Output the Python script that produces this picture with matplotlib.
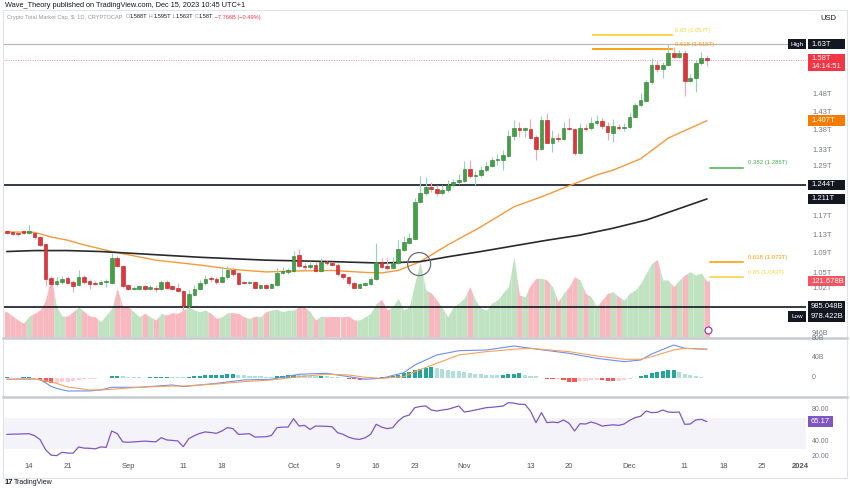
import numpy as np
import matplotlib
matplotlib.use("Agg")
import matplotlib.pyplot as plt
from matplotlib.transforms import IdentityTransform
from matplotlib.patches import Rectangle, Circle
from matplotlib.lines import Line2D

plt.rcParams['font.family'] = ['Liberation Sans', 'DejaVu Sans']

# ---------------- data (daily candles, Aug 10 2023 -> Dec 15 2023, values in T USD) -------------
opens = [
    1.138, 1.135, 1.134, 1.138, 1.135, 1.135, 1.126, 1.110, 1.041, 1.029,
    1.033, 1.041, 1.033, 1.027, 1.043, 1.035, 1.031, 1.028, 1.032, 1.031,
    1.082, 1.066, 1.026, 1.019, 1.020, 1.024, 1.020, 1.022, 1.020, 1.032,
    1.024, 1.022, 1.015, 0.987, 1.007, 1.020, 1.030, 1.040, 1.039, 1.032,
    1.042, 1.057, 1.051, 1.032, 1.030, 1.033, 1.022, 1.026, 1.022, 1.027,
    1.051, 1.052, 1.055, 1.088, 1.066, 1.062, 1.068, 1.055, 1.073, 1.071,
    1.068, 1.048, 1.042, 1.030, 1.022, 1.027, 1.029, 1.038, 1.073, 1.066,
    1.060, 1.071, 1.098, 1.114, 1.122, 1.205, 1.224, 1.240, 1.234, 1.224,
    1.231, 1.243, 1.250, 1.254, 1.282, 1.266, 1.267, 1.280, 1.291, 1.305,
    1.305, 1.316, 1.366, 1.387, 1.383, 1.384, 1.363, 1.334, 1.409, 1.349,
    1.362, 1.359, 1.388, 1.385, 1.322, 1.388, 1.387, 1.400, 1.405, 1.393,
    1.375, 1.391, 1.388, 1.389, 1.418, 1.450, 1.462, 1.515, 1.566, 1.553,
    1.566, 1.603, 1.591, 1.603, 1.519, 1.526, 1.571, 1.588]
highs = [
    1.141, 1.138, 1.137, 1.140, 1.152, 1.137, 1.128, 1.111, 1.045, 1.043,
    1.045, 1.045, 1.037, 1.057, 1.047, 1.039, 1.034, 1.036, 1.039, 1.091,
    1.086, 1.067, 1.029, 1.025, 1.027, 1.026, 1.026, 1.027, 1.037, 1.037,
    1.027, 1.031, 1.017, 1.017, 1.027, 1.037, 1.047, 1.045, 1.043, 1.063,
    1.065, 1.063, 1.053, 1.035, 1.034, 1.035, 1.029, 1.028, 1.031, 1.061,
    1.064, 1.061, 1.096, 1.101, 1.071, 1.075, 1.073, 1.081, 1.075, 1.073,
    1.071, 1.051, 1.045, 1.033, 1.031, 1.033, 1.043, 1.112, 1.081, 1.081,
    1.084, 1.119, 1.128, 1.134, 1.213, 1.266, 1.264, 1.251, 1.244, 1.244,
    1.256, 1.258, 1.270, 1.302, 1.305, 1.278, 1.290, 1.300, 1.313, 1.320,
    1.330, 1.382, 1.409, 1.404, 1.390, 1.413, 1.369, 1.420, 1.427, 1.382,
    1.374, 1.404, 1.414, 1.388, 1.401, 1.398, 1.417, 1.423, 1.414, 1.404,
    1.413, 1.398, 1.401, 1.428, 1.456, 1.484, 1.521, 1.586, 1.578, 1.575,
    1.630, 1.621, 1.611, 1.611, 1.539, 1.581, 1.606, 1.595]
lows = [
    1.132, 1.130, 1.129, 1.132, 1.132, 1.122, 1.107, 1.025, 1.021, 1.025,
    1.029, 1.029, 1.014, 1.025, 1.029, 1.019, 1.026, 1.026, 1.023, 1.029,
    1.064, 1.022, 1.017, 1.017, 1.018, 1.017, 1.017, 1.013, 1.017, 1.019,
    1.017, 1.013, 0.978, 0.983, 1.005, 1.017, 1.027, 1.033, 1.029, 1.031,
    1.039, 1.045, 1.027, 1.029, 1.029, 1.021, 1.019, 1.020, 1.021, 1.025,
    1.049, 1.049, 1.053, 1.063, 1.057, 1.059, 1.053, 1.053, 1.068, 1.065,
    1.045, 1.039, 1.027, 1.019, 1.021, 1.025, 1.027, 1.037, 1.061, 1.057,
    1.059, 1.069, 1.096, 1.111, 1.121, 1.202, 1.220, 1.227, 1.218, 1.220,
    1.227, 1.239, 1.246, 1.252, 1.261, 1.244, 1.263, 1.275, 1.288, 1.293,
    1.280, 1.313, 1.356, 1.364, 1.364, 1.359, 1.305, 1.330, 1.348, 1.326,
    1.351, 1.356, 1.382, 1.318, 1.320, 1.380, 1.382, 1.396, 1.385, 1.356,
    1.351, 1.382, 1.380, 1.388, 1.414, 1.447, 1.459, 1.510, 1.545, 1.527,
    1.563, 1.587, 1.587, 1.474, 1.516, 1.488, 1.566, 1.563]
closes = [
    1.135, 1.133, 1.132, 1.135, 1.138, 1.125, 1.108, 1.038, 1.028, 1.035,
    1.039, 1.031, 1.025, 1.043, 1.032, 1.029, 1.028, 1.033, 1.035, 1.082,
    1.066, 1.025, 1.020, 1.022, 1.024, 1.020, 1.022, 1.019, 1.033, 1.022,
    1.020, 1.015, 0.987, 1.009, 1.020, 1.031, 1.039, 1.038, 1.032, 1.043,
    1.057, 1.049, 1.029, 1.030, 1.032, 1.022, 1.026, 1.022, 1.028, 1.051,
    1.054, 1.056, 1.086, 1.065, 1.062, 1.068, 1.055, 1.073, 1.071, 1.068,
    1.048, 1.042, 1.030, 1.022, 1.028, 1.030, 1.039, 1.073, 1.064, 1.060,
    1.071, 1.100, 1.116, 1.124, 1.205, 1.226, 1.239, 1.235, 1.224, 1.232,
    1.245, 1.250, 1.255, 1.282, 1.266, 1.268, 1.280, 1.291, 1.305, 1.308,
    1.318, 1.366, 1.387, 1.382, 1.385, 1.362, 1.334, 1.409, 1.349, 1.361,
    1.359, 1.388, 1.385, 1.322, 1.388, 1.385, 1.400, 1.407, 1.393, 1.378,
    1.393, 1.388, 1.390, 1.418, 1.450, 1.464, 1.516, 1.566, 1.553, 1.566,
    1.603, 1.591, 1.603, 1.519, 1.528, 1.573, 1.588, 1.580]

# volume (billions USD)
volume = [
    55, 45.6, 37, 29.8, 45.6, 51.5, 58.7, 80, 132.6, 65.8,
    45.6, 45.6, 55, 65.8, 55, 45.6, 44, 33, 47.8, 62.4,
    105.8, 65.8, 65.8, 55, 44, 51.5, 44, 37, 51.5, 47.8,
    52.8, 51.5, 58.7, 65.8, 58.7, 55, 58.7, 51.5, 40.6, 44,
    52.8, 52.8, 51.5, 44, 40.6, 45.6, 44, 55, 58.7, 60.2,
    55, 58.7, 58.7, 65.8, 65.8, 55, 37, 45.6, 44, 44,
    44, 44, 45.6, 37, 37, 44, 51.5, 73.2, 81.9, 58.7,
    65.8, 84.1, 58.7, 65.8, 116.7, 163, 102, 95.6, 80.4, 63,
    44, 65.8, 73.9, 84.7, 109.3, 80.4, 63, 58.7, 73.9, 80.4,
    95.6, 109.3, 174.5, 91.3, 87.6, 113, 127.6, 127.6, 123.9, 109.3,
    76.7, 95, 109.3, 131, 123.9, 95, 87.6, 65.8, 80.4, 95,
    98.4, 87.6, 80.4, 95, 102, 116.7, 138.4, 160, 168.8, 123.9,
    123.9, 109.3, 123.9, 134.7, 141.9, 134.7, 139, 121.678]

# moving averages (bar index, value in T)
ema50_idx = [0, 5, 8, 11, 14, 19, 23, 27, 35, 41, 47, 53, 59, 65, 68, 71, 75, 80, 86, 92, 97,
             102, 107, 110, 115, 120, 122, 127]
ema50_val = [1.137, 1.136, 1.126, 1.119, 1.109, 1.095, 1.086, 1.077, 1.067, 1.058, 1.053, 1.055,
             1.056, 1.052, 1.051, 1.056, 1.074, 1.109, 1.148, 1.193, 1.216, 1.242, 1.268, 1.280,
             1.308, 1.361, 1.374, 1.407]
ema200_idx = [0, 5, 11, 17, 23, 35, 47, 59, 68, 75, 80, 86, 92, 98, 104, 110, 116, 127]
ema200_val = [1.095, 1.097, 1.097, 1.095, 1.091, 1.083, 1.077, 1.074, 1.071, 1.074, 1.084, 1.095,
              1.107, 1.119, 1.130, 1.145, 1.163, 1.211]

# MACD (billions)
macd_idx = [0, 5, 6, 7, 8, 9, 11, 15, 17, 19, 24, 30, 32, 38, 43, 48, 53, 58, 62, 65, 68, 72, 74,
            78, 82, 87, 92, 95, 102, 107, 112, 115, 117, 121, 123, 127]
macd_val = [-3.1, -2.5, -4, -10, -17, -21, -26, -26, -24, -18.8, -18.8, -14.3, -17.6, -11, -4.5,
            -3.1, 6.7, 8.6, 2, -3.1, -1.2, 9.8, 24.9, 44.5, 52.9, 54.3, 62.1, 57.6, 47.8, 38, 31.4,
            34.7, 46.5, 64.1, 57.6, 55.7]
signal_idx = [0, 5, 8, 11, 15, 17, 19, 24, 30, 32, 38, 43, 48, 53, 58, 62, 65, 68, 72, 74, 78, 82,
              87, 92, 95, 102, 107, 112, 115, 117, 121, 123, 127]
signal_val = [-3.1, -2.5, -8, -18.2, -24.1, -24.1, -22.7, -18.8, -16.3, -16.3, -12.3, -7.8, -4.5,
              2, 6.7, 5.3, 0.8, -1.2, 2, 11.8, 28.2, 44.5, 51, 55.7, 57.6, 51, 42.5, 36.1, 36.1,
              41.2, 54.3, 57.6, 55.7]
hist = [
    0.5, 0.3, 0.2, 0.5, 0.8, -1.5, -4, -8, -10, -10,
    -9, -8, -6.5, -5, -3.5, -2.5, -1.8, -1, -0.5, 2.5,
    3.5, 2.5, 1.5, 1, 0.5, 0.3, 0.6, 1.2, 1.8, 2,
    1.5, 1, 0.5, 1.5, 2.5, 3.5, 4.5, 5, 5.5, 6,
    7, 7.2, 6, 5, 4, 3.2, 2.5, 2, 1.8, 3,
    4, 4.5, 5.5, 5, 4.5, 4, 3.5, 4, 3, 2,
    1, 0, -2, -3.5, -4, -3, -2, -1, 1, 2,
    3.5, 6, 9, 12, 15, 18, 19.5, 20, 18.5, 17,
    15.5, 14, 12.5, 11, 9.5, 8, 7, 6, 5, 4.5,
    5, 7, 8, 8.5, 6, 4, 2.5, -1, -2.5, -3.5,
    -3, -5, -8, -9, -7, -6, -5, -4, -5, -6,
    -6.5, -6, -5, -3.5, -1.5, 3, 6, 9, 11, 13,
    14.5, 15, 12, 8, 5, 2.5, 0.5, -1]

# RSI
rsi_idx = [0, 4, 5, 6, 7, 8, 9, 10, 11, 12, 13, 14, 15, 16, 17, 18, 19, 20, 21, 22, 23, 25, 27, 28,
           29, 31, 32, 33, 34, 35, 36, 37, 38, 39, 40, 41, 42, 44, 45, 47, 48, 49, 50, 51, 52, 53,
           54, 55, 56, 58, 59, 60, 61, 62, 63, 64, 65, 66, 67, 68, 69, 70, 71, 72, 73, 74, 75, 76,
           77, 78, 79, 80, 81, 82, 83, 84, 85, 86, 87, 88, 89, 90, 91, 92, 93, 94, 95, 96, 97, 98,
           99, 100, 101, 102, 103, 104, 105, 106, 107, 108, 109, 110, 111, 112, 113, 114, 115, 116,
           117, 118, 119, 120, 121, 122, 123, 124, 125, 126, 127]
rsi_val = [48.7, 49.5, 47, 42, 29, 22, 21.3, 25.6, 24.7, 24.5, 32.5, 31, 30.8, 30, 32.5, 32, 53,
           49.7, 39, 38.5, 39, 40, 39, 44.5, 41.5, 40.3, 32.9, 43.2, 47, 50, 51.8, 51, 50, 53, 57.4,
           56, 48.7, 49.5, 45.2, 45.6, 47.3, 57.3, 58, 58, 68.8, 59.4, 60.2, 55, 59.4, 59, 58.5,
           50.8, 48.7, 45, 43, 42.2, 44.3, 48.7, 61.6, 58, 56, 57.3, 65.8, 71.4, 73.5, 83, 84.5,
           85.2, 80, 78.7, 80, 80.9, 83, 85.2, 77.4, 78.5, 80, 81.5, 83, 83.5, 84.3, 85, 89.4, 88.8,
           87.3, 87.3, 78.7, 63.7, 76.6, 63.7, 64.5, 63.7, 67.2, 63, 53, 62.4, 62, 64.6, 62.5, 59.4,
           60.2, 61, 60.2, 62, 66.7, 70.2, 72, 78.7, 76.6, 77, 80, 77.4, 77, 77.4, 61.6, 62, 67.2,
           68, 65.17]

date_idx = [4, 11, 22, 32, 39, 52, 60, 67, 74, 83, 95, 102, 113, 123, 130, 137, 144]
date_lbl = ["14", "21", "Sep", "11", "18", "Oct", "9", "16", "23", "Nov", "13", "20", "Dec", "11",
            "18", "25", "2024"]

price_ticks = [1.48, 1.43, 1.38, 1.33, 1.29, 1.17, 1.13, 1.09, 1.05, 1.02]
price_tick_lbl = ["1.48T", "1.43T", "1.38T", "1.33T", "1.29T", "1.17T", "1.13T", "1.09T", "1.05T", "1.02T"]

hlines = [1.244, 0.985]
high_val, low_val, last_val = 1.63, 0.978, 1.58
ema50_last, ema200_last = 1.407, 1.211
fib_top = [(1.657, "0.65 (1.657T)", '#f5d23b'), (1.615, "0.618 (1.615T)", '#ff9800')]
fib_bot = [(1.286, "0.382 (1.286T)", '#4caf50'), (1.073, "0.618 (1.073T)", '#ff9800'),
           (1.043, "0.65 (1.043T)", '#f5d23b')]

# ---------------- layout helpers -------------
W, H = 850, 490
fig = plt.figure(figsize=(8.5, 4.9), dpi=100)
fig.patch.set_facecolor('white')

def rect(x0, y0, x1, y1):
    return [x0 / W, 1 - y1 / H, (x1 - x0) / W, (y1 - y0) / H]

def fx(x):
    return x / W

def fy(y):
    return 1 - y / H

L, R = 3, 806
X0, X1 = (L - 7) / 5.51, (R - 7) / 5.51
n = len(closes)
idx = np.arange(n)

# ---------------- main pane -------------
ax_v = fig.add_axes(rect(L, 10, R, 337))
ax = fig.add_axes(rect(L, 10, R, 337))
ax.patch.set_alpha(0)
for a in (ax_v, ax):
    a.set_xlim(X0, X1)
    a.axis('off')
ax.set_yscale('log')
ax.set_ylim(0.9295, 1.7398)
ax_v.set_ylim(0, 710.6)

vol = np.array(volume, dtype=float)
vg, vr = '#bfe3c1', '#f8b8bf'
for i in range(n):
    left = (vol[i - 1] + vol[i]) / 2 if i > 0 else vol[i]
    right = (vol[i] + vol[i + 1]) / 2 if i < n - 1 else vol[i]
    col = vg if closes[i] >= opens[i] else vr
    ax_v.fill_between([i - 0.5, i, i + 0.5], 0, [left, vol[i], right], color=col, lw=0)

ax.axhline(high_val, color='#b2b5be', lw=0.8, zorder=1)
ax.axhline(last_val, color='#f23645', lw=0.7, ls=(0, (1, 1.5)), alpha=0.55, zorder=1)
for v in hlines:
    ax.axhline(v, color='#131722', lw=1.2, zorder=2)

ax.plot(ema50_idx, ema50_val, color='#f59a3b', lw=1.0, zorder=3)
ax.plot(ema200_idx, ema200_val, color='#2a2a2a', lw=1.2, zorder=3)

for i in range(n):
    o, h, l, c = opens[i], highs[i], lows[i], closes[i]
    up = c >= o
    wick = '#93d3c0' if up else '#f4a7b1'
    body = '#43a047' if up else '#e0363f'
    edge = '#2e7d32' if up else '#b71c1c'
    ax.vlines(i, l, h, color=wick, lw=0.8, zorder=4)
    bot, top = min(o, c), max(o, c)
    if top / bot < 1.0025:
        top = bot * 1.0025
    ax.bar(i, top - bot, bottom=bot, width=0.66, color=body, edgecolor=edge, lw=0.4, zorder=5)

# fib levels
for v, s, c in fib_top:
    ax.plot([106.4, 120.7], [v, v], color=c, lw=1.3, zorder=3)
    ax.text(121.2, v * 1.009, s, color=c, fontsize=4.3, va='center', ha='left', zorder=6)
for v, s, c in fib_bot:
    ax.plot([127.6, 133.6], [v, v], color=c, lw=1.1, zorder=3)
    ax.text(134.4, v * 1.009, s, color=c, fontsize=4.3, va='center', ha='left', zorder=6)

# golden cross circle
fig.canvas.draw()
cx, cy = ax.transData.transform((74.8, 1.069))
fig.add_artist(Circle((cx, cy), 11.5, transform=IdentityTransform(), fill=False,
                      ec='#6b6e78', lw=0.9))
# event icon
ax.plot([127.2], [0.942], marker='o', ms=5, mfc='white', mec='#9c27b0', mew=0.8, zorder=6)

# ---------------- MACD pane -------------
ax_m = fig.add_axes(rect(L, 338, R, 396))
ax_m.set_xlim(X0, X1)
ax_m.set_ylim(-35.9, 77.8)
ax_m.axis('off')
hcols = []
for i, hv in enumerate(hist):
    prev = hist[i - 1] if i > 0 else hv
    if hv >= 0:
        hcols.append('#26a69a' if hv >= prev else '#b2dfdb')
    else:
        hcols.append('#ff5252' if hv < prev else '#ffcdd2')
ax_m.bar(idx, hist, width=0.75, color=hcols, lw=0)
ax_m.plot(macd_idx, macd_val, color='#6e8ff0', lw=0.8)
ax_m.plot(signal_idx, signal_val, color='#f5a25d', lw=0.8)

# ---------------- RSI pane -------------
ax_r = fig.add_axes(rect(L, 397, R, 458))
ax_r.set_xlim(X0, X1)
ax_r.set_ylim(18.3, 96.7)
ax_r.axis('off')
ax_r.axhspan(30, 70, color='#7e57c2', alpha=0.07, lw=0)
ax_r.plot(rsi_idx, rsi_val, color='#7e57c2', lw=0.9)

# ---------------- separators / frame -------------
for yy in (337.5, 396.5):
    fig.add_artist(Line2D([fx(3), fx(847)], [fy(yy), fy(yy)], color='#c9cbd1', lw=1.8))
fig.add_artist(Rectangle((fx(3), fy(478)), 844 / W, 468 / H, transform=fig.transFigure,
                         fill=False, ec='#e0e3eb', lw=0.8))

# ---------------- labels -------------
fig.canvas.draw()
renderer = fig.canvas.get_renderer()

def ypx(a, v):
    return H - a.transData.transform((0, v))[1]

def box(yc, x0, x1, h, fc):
    fig.add_artist(Rectangle((fx(x0), fy(yc + h / 2)), (x1 - x0) / W, h / H,
                             transform=fig.transFigure, fc=fc, ec='none'))

def txt(x, y, s, color='#787b86', size=5.5, ha='left', weight='normal'):
    return fig.text(fx(x), fy(y), s, color=color, fontsize=size, ha=ha, va='center', weight=weight)

for v, s in zip(price_ticks, price_tick_lbl):
    txt(812, ypx(ax, v), s)
txt(812, 333, "946B", size=5)

def lab(yc, s, fc, h=10.5):
    box(yc, 808, 845, h, fc)
    txt(811, yc, s, color='white')

lab(ypx(ax, high_val), "1.63T", '#131722')
box(ypx(ax, high_val), 788, 806, 10.5, '#131722')
txt(797, ypx(ax, high_val), "High", color='white', size=4.6, ha='center')
box(62.5, 808, 845, 17, '#f23645')
txt(811, 58.5, "1.58T", color='white')
txt(811, 66.5, "14:14:51", color='white')
lab(ypx(ax, ema50_last), "1.407T", '#f57c00')
lab(ypx(ax, hlines[0]), "1.244T", '#131722')
lab(ypx(ax, ema200_last), "1.211T", '#131722')
vy = H - ax_v.transData.transform((0, volume[-1]))[1]
lab(vy, "121.678B", '#f7525f')
lab(306.5, "985.048B", '#131722')
lab(316.5, "978.422B", '#131722')
box(316.5, 788, 806, 10.5, '#131722')
txt(797, 316.5, "Low", color='white', size=4.6, ha='center')

# MACD axis
txt(812, ypx(ax_m, 80) + 1.5, "80B", size=5)
txt(812, ypx(ax_m, 40), "40B", size=5)
txt(812, ypx(ax_m, 0), "0", size=5)
# RSI axis
for v in (80, 40, 20):
    txt(812, ypx(ax_r, v), "%.2f" % v, size=5)
box(ypx(ax_r, 65.17), 808, 833, 10.5, '#7e57c2')
txt(811, ypx(ax_r, 65.17), "65.17", color='white')

# time axis
for i, s in zip(date_idx, date_lbl):
    xp = 7 + 5.51 * i
    txt(xp, 466, s, color='#50535e', ha='center', weight='bold' if s == "2024" else 'normal')

# header / legend
txt(5, 5.5, "Wave_Theory published on TradingView.com, Dec 15, 2023 10:45 UTC+1", color='#131722', size=5.3)
t0 = txt(7, 17, "Crypto Total Market Cap, $, 1D, CRYPTOCAP", color='#9598a1', size=4.1)
xcur = 7 + t0.get_window_extent(renderer=renderer).width + 3
parts = [("O", '#9598a1'), ("1.588T", '#131722'), (" H", '#9598a1'), ("1.595T", '#131722'),
         (" L", '#9598a1'), ("1.563T", '#131722'), (" C", '#9598a1'), ("1.58T", '#131722'),
         (" \u22127.766B (\u22120.49%)", '#f23645')]
for s, c in parts:
    t = txt(xcur, 17, s, color=c, size=4.1)
    xcur += t.get_window_extent(renderer=renderer).width
txt(820, 18, "USD", color='#131722', size=5.5)

# footer
txt(5, 482, "17", color='#131722', size=5.5, weight='bold')
txt(14, 482, "TradingView", color='#131722', size=5)

fig.savefig("out.png", dpi=100)
